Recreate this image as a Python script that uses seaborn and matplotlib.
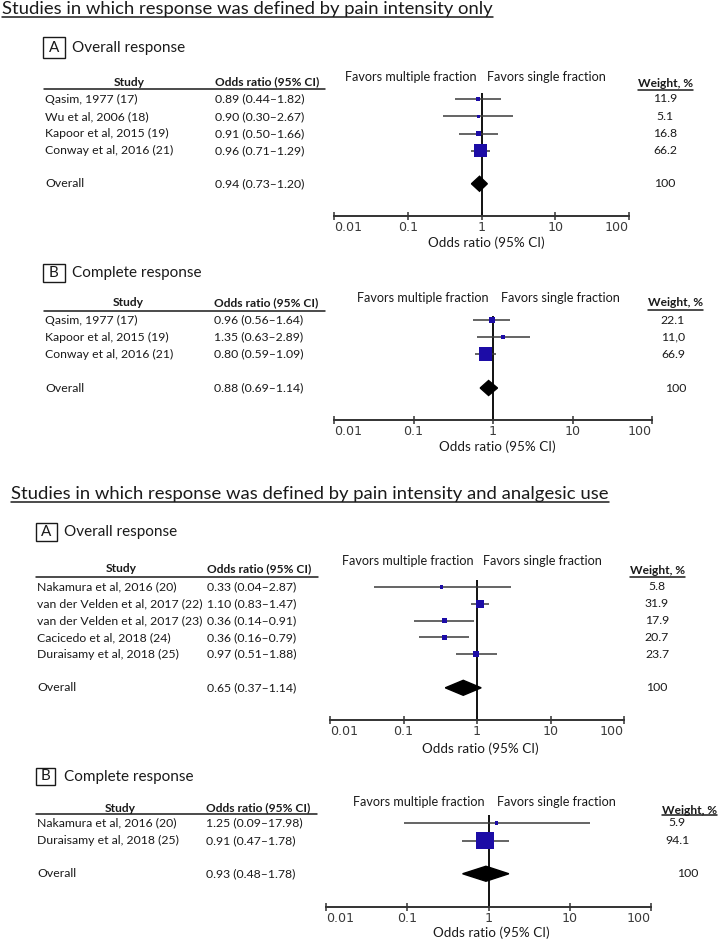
import numpy as np
import matplotlib
matplotlib.use("Agg")
import matplotlib.pyplot as plt
import seaborn as sns
from matplotlib.patches import Rectangle
from matplotlib.ticker import NullLocator
from matplotlib.transforms import blended_transform_factory

# ---------------- DATA ----------------
title_1 = "Studies in which response was defined by pain intensity only"
title_2 = "Studies in which response was defined by pain intensity and analgesic use"

# 1A: pain intensity only, overall response
s1a_study = ["Qasim, 1977 (17)", "Wu et al, 2006 (18)", "Kapoor et al, 2015 (19)", "Conway et al, 2016 (21)"]
s1a_or = [0.89, 0.90, 0.91, 0.96]
s1a_lo = [0.44, 0.30, 0.50, 0.71]
s1a_hi = [1.82, 2.67, 1.66, 1.29]
s1a_wt = ["11.9", "5.1", "16.8", "66.2"]
s1a_pool = [0.94, 0.73, 1.20]

# 1B: pain intensity only, complete response
s1b_study = ["Qasim, 1977 (17)", "Kapoor et al, 2015 (19)", "Conway et al, 2016 (21)"]
s1b_or = [0.96, 1.35, 0.80]
s1b_lo = [0.56, 0.63, 0.59]
s1b_hi = [1.64, 2.89, 1.09]
s1b_wt = ["22.1", "11,0", "66.9"]
s1b_pool = [0.88, 0.69, 1.14]

# 2A: pain intensity + analgesic use, overall response
s2a_study = ["Nakamura et al, 2016 (20)", "van der Velden et al, 2017 (22)",
             "van der Velden et al, 2017 (23)", "Cacicedo et al, 2018 (24)",
             "Duraisamy et al, 2018 (25)"]
s2a_or = [0.33, 1.10, 0.36, 0.36, 0.97]
s2a_lo = [0.04, 0.83, 0.14, 0.16, 0.51]
s2a_hi = [2.87, 1.47, 0.91, 0.79, 1.88]
s2a_wt = ["5.8", "31.9", "17.9", "20.7", "23.7"]
s2a_pool = [0.65, 0.37, 1.14]

# 2B: pain intensity + analgesic use, complete response
s2b_study = ["Nakamura et al, 2016 (20)", "Duraisamy et al, 2018 (25)"]
s2b_or = [1.25, 0.91]
s2b_lo = [0.09, 0.47]
s2b_hi = [17.98, 1.78]
s2b_wt = ["5.9", "94.1"]
s2b_pool = [0.93, 0.48, 1.78]

ticks = [0.01, 0.1, 1, 10, 100]
tick_labels = ["0.01", "0.1", "1", "10", "100"]

# ---------------- FIGURE ----------------
sns.set_theme(style="white")
plt.rcParams['font.family'] = ['Lato', 'DejaVu Sans']

W, H = 719, 941
fig = plt.figure(figsize=(W / 100, H / 100), dpi=100)
canvas = fig.add_axes([0, 0, 1, 1])
canvas.set_xlim(0, W)
canvas.set_ylim(H, 0)
canvas.axis("off")

renderer = fig.canvas.get_renderer()


def fit(text, width, **kw):
    # font size that makes text this many pixels wide
    t = canvas.text(0, 0, text, fontsize=10, **kw)
    w = t.get_window_extent(renderer).width
    t.remove()
    return 10 * width / w


title_fs = fit(title_2, 597)
sec_fs = fit("Overall response", 113)
body_fs = fit("Favors multiple fraction", 131)
table_fs = fit("van der Velden et al, 2017 (22)", 166)
head_fs = fit("Odds ratio (95% CI)", 104, fontweight="bold")
tick_fs = fit("0.01", 28, family="DejaVu Sans")
xlab_fs = fit("Odds ratio (95% CI)", 116)

BLUE = "#1c0ca6"
INK = "#1a1a1a"

# titles (underlined)
for txt, x, y in [(title_1, 2, 14), (title_2, 11, 499)]:
    t = canvas.text(x, y, txt, fontsize=title_fs, va="baseline", color=INK)
    w = t.get_window_extent(renderer).width
    canvas.plot([x, x + w], [y + 2.5, y + 2.5], color=INK, lw=1.1)


def panel(study, odds, lo, hi, wt, pool, lay):
    n = len(study)
    step = lay["step"]
    ybot = (lay["axis_y"] - lay["row0"]) / step
    top_px = lay["row0"] - step
    ax = fig.add_axes([lay["x0"] / W, 1 - lay["axis_y"] / H,
                       (lay["x1"] - lay["x0"]) / W, (lay["axis_y"] - top_px) / H])
    ax.set_facecolor("none")
    ax.set_xscale("log")
    ax.set_xlim(0.01, 100)
    ax.set_ylim(ybot, -1)

    rows = np.arange(n)
    pool_row = n + lay["gap"]

    # confidence intervals
    ax.hlines(rows, lo, hi, color="#3a3a3a", lw=1.1, zorder=2)
    # squares sized by weight
    wnum = np.array([float(w.replace(",", ".")) for w in wt])
    side = (2.2 + 0.164 * wnum) * 0.72
    sns.scatterplot(x=odds, y=rows, marker="s", s=side ** 2, color=BLUE,
                    edgecolor=BLUE, linewidth=0, zorder=3, ax=ax, legend=False)
    # pooled estimate diamond
    hh = 7.5 / step
    est, plo, phi = pool
    ax.fill([plo, est, phi, est], [pool_row, pool_row - hh, pool_row, pool_row + hh],
            color="black", zorder=3)
    # line of no effect
    ax.vlines(1, (lay["vtop"] - lay["row0"]) / step, ybot, color="#111111", lw=1.4, zorder=1)

    sns.despine(ax=ax, left=True)
    ax.spines["bottom"].set_color("#333333")
    ax.spines["bottom"].set_linewidth(1.4)
    ax.set_yticks([])
    ax.set_xticks(ticks)
    ax.xaxis.set_minor_locator(NullLocator())
    ax.set_xticklabels(tick_labels, fontfamily="DejaVu Sans", fontsize=tick_fs, color="#3a3a3a")
    ax.tick_params(axis="x", direction="inout", length=6, width=1.1, color="#333333",
                   pad=0.5, bottom=True)
    labs = ax.get_xticklabels()
    labs[0].set_ha("left")
    labs[-1].set_ha("right")

    # table text: x in pixels, y in row units
    tr = blended_transform_factory(canvas.transData, ax.transData)
    for i in range(n):
        canvas.text(lay["name_x"], i, study[i], transform=tr, fontsize=table_fs,
                    va="center", color=INK)
        canvas.text(lay["or_x"], i, f"{odds[i]:.2f} ({lo[i]:.2f}–{hi[i]:.2f})",
                    transform=tr, fontsize=table_fs, va="center", color=INK)
        canvas.text(lay["wt_x"], i, wt[i], transform=tr, fontsize=table_fs,
                    va="center", ha="center", color=INK)
    canvas.text(lay["name_x"], pool_row, "Overall", transform=tr, fontsize=table_fs,
                va="center", color=INK)
    canvas.text(lay["or_x"], pool_row, f"{est:.2f} ({plo:.2f}–{phi:.2f})",
                transform=tr, fontsize=table_fs, va="center", color=INK)
    canvas.text(lay["wtot_x"], pool_row, "100", transform=tr, fontsize=table_fs,
                va="center", ha="center", color=INK)

    # header
    canvas.text(lay["study_cx"], lay["head_y"], "Study", fontsize=head_fs,
                fontweight="bold", ha="center", va="center", color=INK)
    canvas.text(lay["or_x"], lay["head_y"], "Odds ratio (95% CI)", fontsize=head_fs,
                fontweight="bold", va="center", color=INK)
    canvas.plot(lay["rule_x"], [lay["rule_y"]] * 2, color=INK, lw=1.1)

    # favours labels
    canvas.text(lay["fav_r"], lay["fav_y"], "Favors multiple fraction", fontsize=body_fs,
                ha="right", va="center", color=INK)
    canvas.text(lay["fav_l"], lay["fav_y"], "Favors single fraction", fontsize=body_fs,
                ha="left", va="center", color=INK)

    # weight header, underlined
    wx, wy = lay["wt_head"]
    t = canvas.text(wx, wy, "Weight, %", fontsize=head_fs, fontweight="bold",
                    ha="left", va="center", color=INK)
    ww = t.get_window_extent(renderer).width
    if wx + ww > W - 2:
        wx = W - 2 - ww
        t.set_x(wx)
    canvas.plot([wx, wx + ww], [lay["wt_rule"]] * 2, color=INK, lw=1.1)

    # section label with boxed letter
    bx, by, bw, bh = lay["box"]
    canvas.add_patch(Rectangle((bx, by), bw, bh, fill=False, ec=INK, lw=1.0))
    canvas.text(bx + bw / 2, by + bh / 2, lay["letter"], fontsize=sec_fs,
                ha="center", va="center", color=INK)
    canvas.text(lay["sec_x"], by + bh / 2, lay["sec"], fontsize=sec_fs,
                va="center", color=INK)

    # x label
    canvas.text(lay["xlab"][0], lay["xlab"][1], "Odds ratio (95% CI)", fontsize=xlab_fs,
                ha="center", va="center", color=INK)


panel(s1a_study, s1a_or, s1a_lo, s1a_hi, s1a_wt, s1a_pool, dict(
    x0=334, x1=629, axis_y=216, row0=99, step=17.3, gap=0.9, vtop=93,
    name_x=45, or_x=215, study_cx=129, head_y=82, rule_y=89, rule_x=[44, 325],
    box=(43, 37, 22, 21), letter="A", sec_x=72, sec="Overall response",
    fav_y=77, fav_r=477, fav_l=487, wt_head=(638, 83), wt_rule=90,
    wt_x=665, wtot_x=665, xlab=(486, 243)))

panel(s1b_study, s1b_or, s1b_lo, s1b_hi, s1b_wt, s1b_pool, dict(
    x0=334, x1=652, axis_y=420, row0=320, step=17.0, gap=1.0, vtop=316,
    name_x=45, or_x=214, study_cx=128, head_y=303, rule_y=311, rule_x=[44, 325],
    box=(43, 264, 22, 18), letter="B", sec_x=72, sec="Complete response",
    fav_y=298, fav_r=489, fav_l=501, wt_head=(648, 303), wt_rule=310,
    wt_x=673, wtot_x=676, xlab=(497, 447)))

panel(s2a_study, s2a_or, s2a_lo, s2a_hi, s2a_wt, s2a_pool, dict(
    x0=330, x1=624, axis_y=720, row0=587, step=16.8, gap=1.0, vtop=580,
    name_x=37, or_x=207, study_cx=121, head_y=569, rule_y=577, rule_x=[36, 318],
    box=(36, 523, 21, 18), letter="A", sec_x=64, sec="Overall response",
    fav_y=561, fav_r=474, fav_l=483, wt_head=(630, 570), wt_rule=577,
    wt_x=657, wtot_x=657, xlab=(480, 749)))

panel(s2b_study, s2b_or, s2b_lo, s2b_hi, s2b_wt, s2b_pool, dict(
    x0=326, x1=651, axis_y=907, row0=823, step=17.5, gap=0.9, vtop=815,
    name_x=37, or_x=206, study_cx=120, head_y=808, rule_y=814, rule_x=[36, 317],
    box=(36, 768, 19, 17), letter="B", sec_x=64, sec="Complete response",
    fav_y=802, fav_r=485, fav_l=497, wt_head=(668, 810), wt_rule=815,
    wt_x=677, wtot_x=688, xlab=(491, 933)))

fig.savefig("out.png", dpi=100)
